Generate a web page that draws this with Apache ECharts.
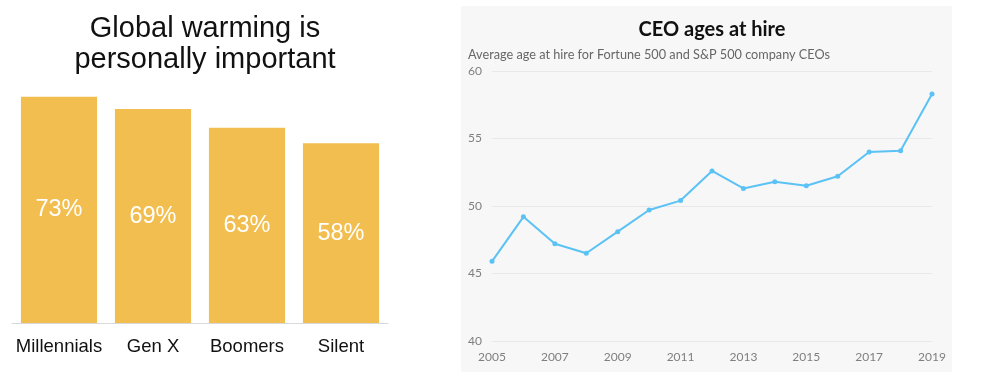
<!DOCTYPE html>
<html><head><meta charset="utf-8">
<script src="https://cdn.jsdelivr.net/npm/echarts@6/dist/echarts.min.js"></script>
<style>html,body{margin:0;padding:0;background:#fff}#c{width:1000px;height:378px}</style>
</head><body><div id="c"></div>
<script>
var genCategories = ['Millennials', 'Gen X', 'Boomers', 'Silent'];
var genValues = [73, 69, 63, 58];
var years = ['2005','2006','2007','2008','2009','2010','2011','2012','2013','2014','2015','2016','2017','2018','2019'];
var ceoAges = [45.9, 49.2, 47.2, 46.5, 48.1, 49.7, 50.4, 52.6, 51.3, 51.8, 51.5, 52.2, 54.0, 54.1, 58.3];

var chart = echarts.init(document.getElementById('c'), null, {renderer: 'canvas'});
chart.setOption({
  animation: false,
  graphic: [{
    type: 'rect', z: -10, silent: true,
    shape: {x: 461, y: 6, width: 491, height: 366},
    style: {fill: '#f7f7f7'}
  }],
  title: [
    {text: 'Global warming is', left: 200, top: 9, textAlign: 'center',
     textStyle: {fontFamily: 'Liberation Sans', fontSize: 29, fontWeight: 'normal', color: '#111'}},
    {text: 'personally important', left: 200, top: 40, textAlign: 'center',
     textStyle: {fontFamily: 'Liberation Sans', fontSize: 29, fontWeight: 'normal', color: '#111'}},
    {text: 'CEO ages at hire', left: 707, top: 15, textAlign: 'center',
     textStyle: {fontFamily: 'Lato', fontSize: 20, fontWeight: 'bold', color: '#111'}},
    {text: 'Average age at hire for Fortune 500 and S&P 500 company CEOs', left: 463, top: 43,
     textStyle: {fontFamily: 'Lato', fontSize: 12.7, fontWeight: 'normal', color: '#666'}}
  ],
  grid: [
    {left: 12, width: 376, top: 13, bottom: 55},
    {left: 492, width: 440, top: 71, bottom: 37}
  ],
  xAxis: [
    {gridIndex: 0, type: 'category', data: genCategories,
     axisLine: {lineStyle: {color: '#d9d9d9', width: 1}}, axisTick: {show: false},
     axisLabel: {interval: 0, color: '#111', fontFamily: 'Liberation Sans', fontSize: 18.5, margin: 14}},
    {gridIndex: 1, type: 'category', data: years, boundaryGap: false,
     axisLine: {show: false}, axisTick: {show: false},
     axisLabel: {interval: 1, color: '#7f7f7f', fontFamily: 'Lato', fontSize: 12, margin: 10}}
  ],
  yAxis: [
    {gridIndex: 0, type: 'value', min: 0, max: 100, show: false},
    {gridIndex: 1, type: 'value', min: 40, max: 60, interval: 5,
     axisLine: {show: false}, axisTick: {show: false},
     axisLabel: {align: 'left', margin: 24, color: '#7f7f7f', fontFamily: 'Lato', fontSize: 12},
     splitLine: {lineStyle: {color: '#e8e8e8', width: 1}}}
  ],
  series: [
    {type: 'bar', xAxisIndex: 0, yAxisIndex: 0, data: genValues, barCategoryGap: '19%',
     itemStyle: {color: '#f2be4f'},
     label: {show: true, position: 'inside', formatter: '{c}%', color: '#fff',
             fontFamily: 'Liberation Sans', fontSize: 23.5}},
    {type: 'line', xAxisIndex: 1, yAxisIndex: 1, data: ceoAges,
     symbol: 'circle', symbolSize: 5,
     lineStyle: {color: '#5bc2f5', width: 2}, itemStyle: {color: '#5bc2f5'}}
  ]
});
</script></body></html>
